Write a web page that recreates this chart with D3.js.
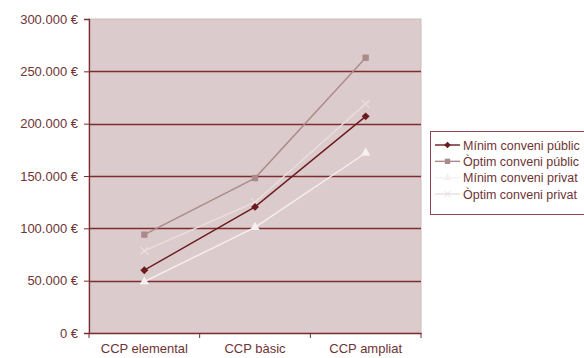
<!DOCTYPE html>
<html>
<head>
<meta charset="utf-8">
<title>CCP</title>
<style>
  body { margin: 0; background: #fff; }
  svg text { font-family: "Liberation Sans", Arial, sans-serif; fill: #6e3434; }
</style>
</head>
<body>
<script src="https://d3js.org/d3.v7.min.js"></script>
<script>
var width = 584, height = 358;

var categories = ["CCP elemental", "CCP bàsic", "CCP ampliat"];
var yTicks = [0, 50000, 100000, 150000, 200000, 250000, 300000];
var seriesNames = ["Mínim conveni públic", "Òptim conveni públic", "Mínim conveni privat", "Òptim conveni privat"];
var minimPublic = [60000, 120500, 207000];
var optimPublic = [94000, 148000, 263000];
var minimPrivat = [49000, 101000, 172000];
var optimPrivat = [78500, 125000, 219000];

var colors = ["#6b1a1e", "#ad8a8a", "#f6f0f0", "#eadede"];
var shapes = ["diamond", "square", "triangle", "cross"];
var allSeries = [minimPublic, optimPublic, minimPrivat, optimPrivat];

var margin = {left: 89, top: 19, right: 421, bottom: 333};

var svg = d3.select("body").append("svg")
    .attr("width", width)
    .attr("height", height);

var x = d3.scaleBand().domain(categories).range([margin.left, margin.right]);
var y = d3.scaleLinear().domain([0, 300000]).range([margin.bottom, margin.top]);

// plot background
svg.append("rect")
    .attr("x", margin.left).attr("y", margin.top)
    .attr("width", margin.right - margin.left)
    .attr("height", margin.bottom - margin.top)
    .attr("fill", "#dccbcc")
    .attr("stroke", "#cdbcbc");

// gridlines
svg.append("g").selectAll("line")
    .data(yTicks.slice(1, -1))
    .enter().append("line")
    .attr("x1", margin.left).attr("x2", margin.right)
    .attr("y1", function (d) { return Math.round(y(d)) + 0.5; })
    .attr("y2", function (d) { return Math.round(y(d)) + 0.5; })
    .attr("stroke", "#7d2c30")
    .attr("stroke-width", 1.3);

var fmt = function (d) {
    return d3.format(",")(d).replace(/,/g, ".") + " €";
};

var yAxis = svg.append("g")
    .attr("transform", "translate(" + margin.left + ",0)")
    .call(d3.axisLeft(y).tickValues(yTicks).tickSize(5).tickPadding(6).tickFormat(fmt));
yAxis.selectAll("text").style("font-size", "13px");

var xAxis = svg.append("g")
    .attr("transform", "translate(0," + margin.bottom + ")")
    .call(d3.axisBottom(x).tickSize(0).tickPadding(11));
xAxis.selectAll("text").style("font-size", "13px");
// tick marks between categories
xAxis.selectAll(".sep")
    .data([margin.left, x("CCP bàsic"), x("CCP ampliat"), margin.right])
    .enter().append("line")
    .attr("class", "sep")
    .attr("x1", function (d) { return d; }).attr("x2", function (d) { return d; })
    .attr("y1", 0).attr("y2", 5)
    .attr("stroke", "#7d2c30");

svg.selectAll(".domain").attr("stroke", "#7d2c30").attr("stroke-width", 1.3);
svg.selectAll(".tick line").attr("stroke", "#7d2c30");

function symbolPath(shape, size) {
    if (shape === "diamond") return d3.symbol().type(d3.symbolDiamond2).size(size)();
    if (shape === "square") return d3.symbol().type(d3.symbolSquare).size(size)();
    if (shape === "triangle") return d3.symbol().type(d3.symbolTriangle).size(size)();
    return d3.symbol().type(d3.symbolTimes).size(size)();
}

var line = d3.line()
    .x(function (d, i) { return x(categories[i]) + x.bandwidth() / 2; })
    .y(function (d) { return y(d); });

// draw back to front so dark line sits on top
[3, 2, 1, 0].forEach(function (s) {
    var g = svg.append("g");
    g.append("path")
        .datum(allSeries[s])
        .attr("d", line)
        .attr("fill", "none")
        .attr("stroke", colors[s])
        .attr("stroke-width", 1.4);
    g.selectAll("path.pt")
        .data(allSeries[s])
        .enter().append("path")
        .attr("class", "pt")
        .attr("transform", function (d, i) {
            return "translate(" + (x(categories[i]) + x.bandwidth() / 2) + "," + y(d) + ")";
        })
        .attr("d", symbolPath(shapes[s], 40))
        .attr("fill", shapes[s] === "cross" ? "none" : colors[s])
        .attr("stroke", shapes[s] === "cross" ? colors[s] : "none")
        .attr("stroke-width", 1.3);
});

// legend
var legend = svg.append("g");
legend.append("rect")
    .attr("x", 430.5).attr("y", 131.5)
    .attr("width", 160).attr("height", 83)
    .attr("fill", "#fff")
    .attr("stroke", "#8a4a4c");

var rowY = d3.scalePoint().domain(seriesNames).range([145, 194]);
seriesNames.forEach(function (name, s) {
    var yy = rowY(name);
    legend.append("line")
        .attr("x1", 435).attr("x2", 460)
        .attr("y1", yy).attr("y2", yy)
        .attr("stroke", colors[s]).attr("stroke-width", 1.4);
    legend.append("path")
        .attr("transform", "translate(447.5," + yy + ")")
        .attr("d", symbolPath(shapes[s], 28))
        .attr("fill", shapes[s] === "cross" ? "none" : colors[s])
        .attr("stroke", shapes[s] === "cross" ? colors[s] : "none");
    legend.append("text")
        .attr("x", 463).attr("y", yy + 4.5)
        .style("font-size", "12.5px")
        .text(name);
});
</script>
</body>
</html>
